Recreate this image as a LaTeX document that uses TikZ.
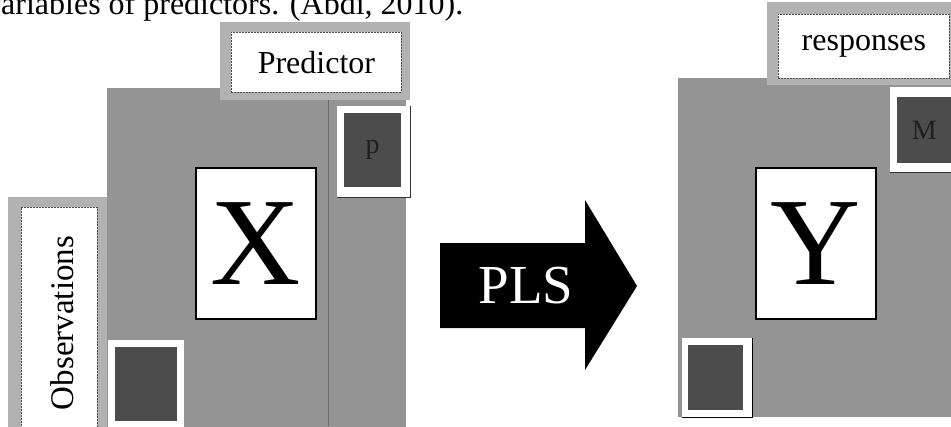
\documentclass[tikz,border=0pt]{standalone}
\usepackage{fontspec}
\setmainfont{Liberation Serif}
\usetikzlibrary{positioning}
\tikzset{
  panel/.style={fill=black!42, inner sep=0pt, anchor=north west},
  frame/.style={fill=black!30, inner sep=0pt, anchor=north west},
  labelbox/.style={fill=white, draw=black!70, dash pattern=on 2pt off 1pt, line width=0.8pt, inner sep=0pt, anchor=north west, font=\fontsize{32}{32}\selectfont},
  whitebox/.style={fill=white, inner sep=0pt, anchor=north west},
  darkbox/.style={fill=black!70, inner sep=0pt, anchor=north west, text=black!88, font=\fontsize{28}{28}\selectfont},
  matbox/.style={fill=white, draw=black, line width=1.5pt, inner sep=0pt, anchor=north west, font=\fontsize{125}{125}\selectfont},
}
\begin{document}
\begin{tikzpicture}[x=1pt,y=-1pt]
\useasboundingbox (0,0) rectangle (951,426);
\clip (0,0) rectangle (951,426);
% caption line cut at the top
\node[anchor=base west, inner sep=0pt, font=\fontsize{32}{32}\selectfont] (caption) at (-15,14) {variables of predictors. (Abdi, 2010).};
% X block
\node[panel, minimum width=299pt, minimum height=345pt] (xpanel) at (107,88) {};
\draw[black!58, line width=1pt] (328,100) -- (328,426);
\node[frame, minimum width=190pt, minimum height=78pt] (predframe) at (220,22) {};
\node[labelbox, minimum width=170pt, minimum height=60pt] (pred) at (231,32) {Predictor};
\node[whitebox, minimum width=73pt, minimum height=91pt] (pframe) at (337,106) {};
\draw[black!80, line width=1.5pt] (pframe.south west) -- (pframe.south east) -- (pframe.north east);
\node[darkbox, minimum width=57pt, minimum height=74pt] (pbox) at (344,113) {p};
\node[matbox, minimum width=120pt, minimum height=151pt] (xmat) at (195,167) {X};
\node[frame, minimum width=99pt, minimum height=235pt] (obsframe) at (8,197) {};
\node[labelbox, minimum width=76pt, minimum height=225pt] (obs) at (21,207) {};
\node[rotate=90, font=\fontsize{33}{33}\selectfont] (obstext) at (62,323) {Observations};
\node[whitebox, minimum width=76pt, minimum height=90pt] (nframe) at (108,340) {};
\node[darkbox, minimum width=62pt, minimum height=74pt] (nbox) at (115,347) {};
% PLS arrow
\fill[black] (440,243) -- (585,243) -- (585,200) -- (637,286) -- (585,370) -- (585,328) -- (440,328) -- cycle;
\node[text=white, font=\fontsize{55}{55}\selectfont] (pls) at (526,286) {PLS};
% Y block
\node[panel, minimum width=273pt, minimum height=339pt] (ypanel) at (678,78) {};
\node[frame, minimum width=184pt, minimum height=83pt] (respframe) at (767,2) {};
\node[labelbox, minimum width=171pt, minimum height=64pt] (resp) at (778,14) {responses};
\node[whitebox, minimum width=61pt, minimum height=85pt] (mframe) at (890,87) {};
\draw[black!80, line width=1.5pt] (mframe.south west) -- (mframe.south east);
\node[darkbox, minimum width=54pt, minimum height=66pt] (mbox) at (897,97) {M};
\node[matbox, minimum width=120pt, minimum height=151pt] (ymat) at (755,167) {Y};
\node[whitebox, minimum width=70pt, minimum height=79pt] (n2frame) at (682,338) {};
\draw[black, line width=1.5pt] (n2frame.south west) -- (n2frame.south east) -- (n2frame.north east);
\node[darkbox, minimum width=55pt, minimum height=65pt] (n2box) at (688,345) {};
\end{tikzpicture}
\end{document}
